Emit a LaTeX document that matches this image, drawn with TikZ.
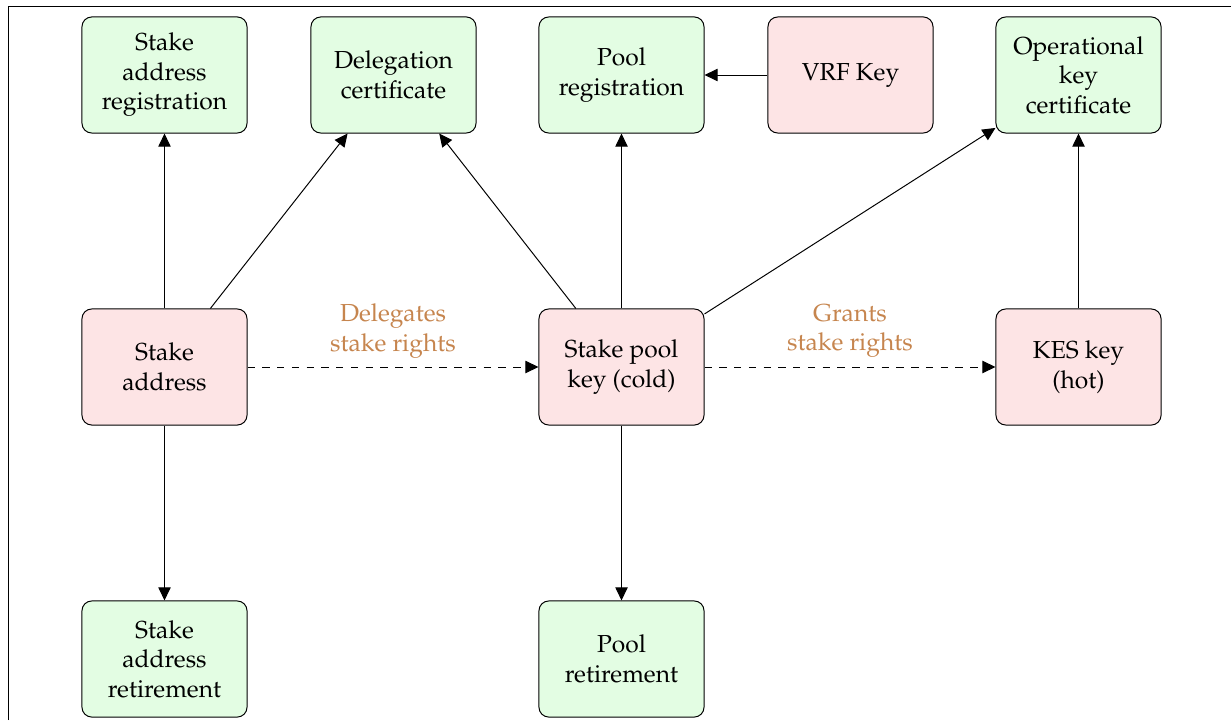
\documentclass[tikz,border=0pt]{standalone}
\usepackage[T1]{fontenc}
\usepackage{mathpazo}
\usetikzlibrary{arrows.meta}

\definecolor{certfill}{HTML}{E3FDE3}
\definecolor{keyfill}{HTML}{FDE4E5}
\definecolor{labelbrown}{RGB}{198,133,78}

\begin{document}
\begin{tikzpicture}[
    x=0.4065pt, y=-0.4065pt,
    box/.style={draw, rounded corners=4pt, line width=0.4pt,
                minimum width=67.1pt, minimum height=47.2pt,
                align=center, inner sep=0pt},
    cert/.style={box, fill=certfill},
    keybox/.style={box, fill=keyfill},
    conn/.style={line width=0.4pt, -{Triangle[length=5.3pt,width=5pt]}},
    lbl/.style={text=labelbrown, align=center, yshift=14.6pt}
  ]
  \useasboundingbox (0,0) rectangle (1231,720);

  % outer frame (only top and left edges fall inside the page)
  \draw[line width=0.4pt] (8,720) -- (8,6.5) -- (1231,6.5);

  % certificates (top row)
  \node[cert] (reg)  at (164.5,75)  {Stake\\address\\registration};
  \node[cert] (deleg) at (393.5,75) {Delegation\\certificate};
  \node[cert] (poolreg) at (621.5,75) {Pool\\registration};
  \node[keybox] (vrf) at (850.5,75) {VRF Key};
  \node[cert] (opcert) at (1078.5,75) {Operational\\key\\certificate};

  % keys (middle row)
  \node[keybox] (stake) at (164.5,367) {Stake\\address};
  \node[keybox] (cold) at (621.5,367) {Stake pool\\key (cold)};
  \node[keybox] (kes) at (1078.5,367) {KES key\\(hot)};

  % retirements (bottom row)
  \node[cert] (sret) at (164.5,659) {Stake\\address\\retirement};
  \node[cert] (pret) at (621.5,659) {Pool\\retirement};

  % connectors
  \draw[conn] (stake) -- (reg);
  \draw[conn] (stake) -- (deleg);
  \draw[conn] (cold) -- (deleg);
  \draw[conn] (cold) -- (poolreg);
  \draw[conn] (cold) -- (opcert);
  \draw[conn] (vrf) -- (poolreg);
  \draw[conn] (kes) -- (opcert);
  \draw[conn] (stake) -- (sret);
  \draw[conn] (cold) -- (pret);

  \draw[conn, dashed] (stake) -- node[lbl] {Delegates\\stake rights} (cold);
  \draw[conn, dashed] (cold) -- node[lbl] {Grants\\stake rights} (kes);
\end{tikzpicture}
\end{document}
